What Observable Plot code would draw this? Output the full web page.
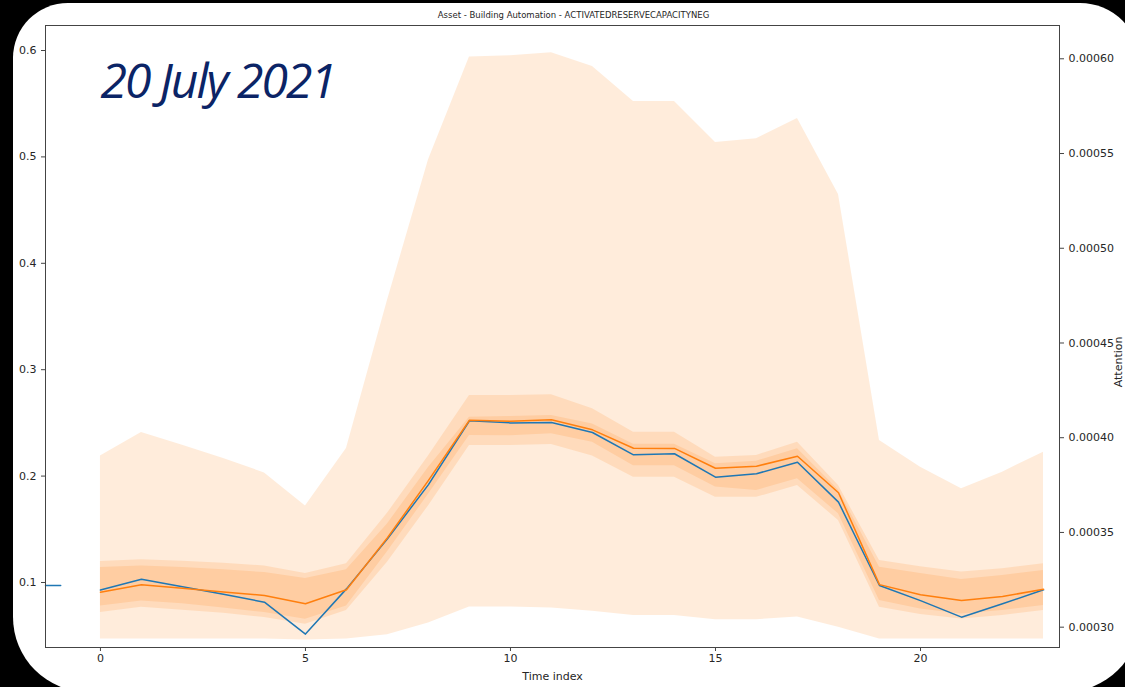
<!DOCTYPE html>
<html>
<head>
<meta charset="utf-8">
<script src="https://cdn.jsdelivr.net/npm/d3@7"></script>
<script src="https://cdn.jsdelivr.net/npm/@observablehq/plot@0.6"></script>
<style>
  html, body { margin: 0; padding: 0; background: #000; width: 1125px; height: 687px; overflow: hidden; }
  #card {
    position: absolute; left: 13px; top: 3px; width: 1127px; height: 689px;
    background: #fff; border-radius: 55px 60px 75px 75px;
  }
  #chart { position: absolute; left: 0; top: 0; }
</style>
</head>
<body>
<div id="card"></div>
<div id="chart"></div>
<script>
// Time steps of the day profile
const steps = [0, 1, 2, 3, 4, 5, 6, 7, 8, 9, 10, 11, 12, 13, 14, 15, 16, 17, 18, 19, 20, 21, 22, 23];

// Observed target (blue)
const actual = [0.093, 0.103, 0.096, 0.089, 0.0815, 0.0515, 0.094, 0.141, 0.192, 0.252, 0.250, 0.2504,
  0.241, 0.220, 0.221, 0.199, 0.2022, 0.213, 0.1755, 0.0972, 0.083, 0.0674, 0.080, 0.0931];

// Predicted median (orange)
const predicted = [0.0909, 0.0978, 0.0945, 0.091, 0.0878, 0.080, 0.0931, 0.142, 0.196, 0.2525, 0.2515, 0.253,
  0.2435, 0.2262, 0.226, 0.2074, 0.2093, 0.2187, 0.1843, 0.098, 0.0885, 0.0831, 0.0868, 0.0937];

// Quantile bands: outer, middle, inner
const outerHi = [0.219, 0.241, 0.229, 0.2165, 0.203, 0.172, 0.226, 0.365, 0.497, 0.594, 0.595, 0.598,
  0.585, 0.552, 0.552, 0.5135, 0.517, 0.536, 0.4647, 0.2335, 0.2084, 0.188, 0.2037, 0.2225];
const outerLo = [0.047, 0.047, 0.047, 0.047, 0.047, 0.046, 0.047, 0.051, 0.062, 0.077, 0.077, 0.076,
  0.073, 0.069, 0.069, 0.065, 0.065, 0.0675, 0.058, 0.047, 0.047, 0.047, 0.047, 0.047];
const midHi = [0.1197, 0.1213, 0.120, 0.118, 0.1156, 0.1085, 0.1175, 0.165, 0.219, 0.2757, 0.2757, 0.2765,
  0.2632, 0.2413, 0.2413, 0.2178, 0.2194, 0.2319, 0.1911, 0.1206, 0.1147, 0.1099, 0.1130, 0.1177];
const midLo = [0.0717, 0.0768, 0.074, 0.071, 0.067, 0.0608, 0.0737, 0.119, 0.172, 0.2288, 0.2288, 0.2297,
  0.219, 0.199, 0.199, 0.180, 0.180, 0.1911, 0.1583, 0.0768, 0.0699, 0.0658, 0.069, 0.0737];
const innerHi = [0.114, 0.1156, 0.114, 0.112, 0.1093, 0.1038, 0.112, 0.155, 0.208, 0.2554, 0.256, 0.257,
  0.249, 0.230, 0.230, 0.2116, 0.214, 0.2256, 0.187, 0.1143, 0.1085, 0.1027, 0.1066, 0.1113];
const innerLo = [0.078, 0.0827, 0.080, 0.076, 0.0717, 0.0655, 0.078, 0.129, 0.183, 0.2382, 0.238, 0.2398,
  0.2319, 0.2098, 0.2098, 0.1897, 0.1865, 0.1974, 0.1646, 0.083, 0.0752, 0.0705, 0.0737, 0.0784];

// Short stub of the observed series from the preceding day
const leadT = [-1.34, -0.97];
const leadV = [0.0972, 0.0972];

// Tick values
const xTicks = [0, 5, 10, 15, 20];
const yTicks = [0.1, 0.2, 0.3, 0.4, 0.5, 0.6];
const attnTicks = [0.00030, 0.00035, 0.00040, 0.00045, 0.00050, 0.00055, 0.00060];

const title = "Asset - Building Automation - ACTIVATEDRESERVECAPACITYNEG";
const dateLabel = "20 July 2021";

// Secondary (attention) axis shares the plot area: linear map onto the left scale
const attnToLeft = a => 0.058 + (a - 0.0003) * 1780.7;
const leftToAttn = v => (v - 0.058) / 1780.7 + 0.0003;

const rows = steps.map((t, i) => ({
  t, actual: actual[i], predicted: predicted[i],
  outerHi: outerHi[i], outerLo: outerLo[i],
  midHi: midHi[i], midLo: midLo[i],
  innerHi: innerHi[i], innerLo: innerLo[i]
}));
const lead = leadT.map((t, i) => ({t, v: leadV[i]}));

const orange = "#ff7f0e";
const blue = "#1f77b4";
const ink = "#262626";

const chart = Plot.plot({
  width: 1125,
  height: 687,
  marginLeft: 45,
  marginRight: 66,
  marginTop: 25,
  marginBottom: 40,
  style: {background: "transparent", fontFamily: "DejaVu Sans", fontSize: "11px", color: ink},
  x: {domain: [-1.34, 23.39]},
  y: {domain: [0.0389, 0.6235]},
  marks: [
    Plot.areaY(rows, {x: "t", y1: "outerLo", y2: "outerHi", fill: orange, fillOpacity: 0.15}),
    Plot.areaY(rows, {x: "t", y1: "midLo", y2: "midHi", fill: orange, fillOpacity: 0.15}),
    Plot.areaY(rows, {x: "t", y1: "innerLo", y2: "innerHi", fill: orange, fillOpacity: 0.15}),
    Plot.line(lead, {x: "t", y: "v", stroke: blue, strokeWidth: 1.5}),
    Plot.line(rows, {x: "t", y: "actual", stroke: blue, strokeWidth: 1.5}),
    Plot.line(rows, {x: "t", y: "predicted", stroke: orange, strokeWidth: 1.5}),
    Plot.frame({stroke: "#444", strokeWidth: 1}),
    Plot.axisX(xTicks, {tickSize: 4, tickPadding: 3, label: null, stroke: "#444", color: ink}),
    Plot.axisY(yTicks, {anchor: "left", tickSize: 4, tickPadding: 5, label: null,
      tickFormat: d3.format(".1f"), stroke: "#444", color: ink}),
    Plot.axisY(attnTicks.map(attnToLeft), {anchor: "right", tickSize: 4, tickPadding: 5, label: null,
      tickFormat: d => leftToAttn(d).toFixed(5), stroke: "#444", color: ink}),
    Plot.text(["Time index"], {frameAnchor: "bottom", dy: 29, lineAnchor: "middle", fill: ink, fontSize: 11}),
    Plot.text([title], {frameAnchor: "top", dx: 21, dy: -10, lineAnchor: "middle", fill: ink, fontSize: 8.5}),
    Plot.text(["Attention"], {frameAnchor: "right", dx: 55, rotate: -90, lineAnchor: "top", fill: ink, fontSize: 11}),
    Plot.text([dateLabel], {frameAnchor: "top-left", dx: 55, dy: 57, textAnchor: "start", lineAnchor: "middle",
      fill: "#0b2466", fontSize: 48, fontStyle: "italic", fontWeight: 400,
      fontFamily: "'Open Sans', Lato, sans-serif"})
  ]
});

// Tighten the spacing of the large date caption
d3.select(chart).selectAll("text")
  .filter(function() { return this.textContent === dateLabel; })
  .style("letter-spacing", "-2px");

document.getElementById("chart").appendChild(chart);
</script>
</body>
</html>
